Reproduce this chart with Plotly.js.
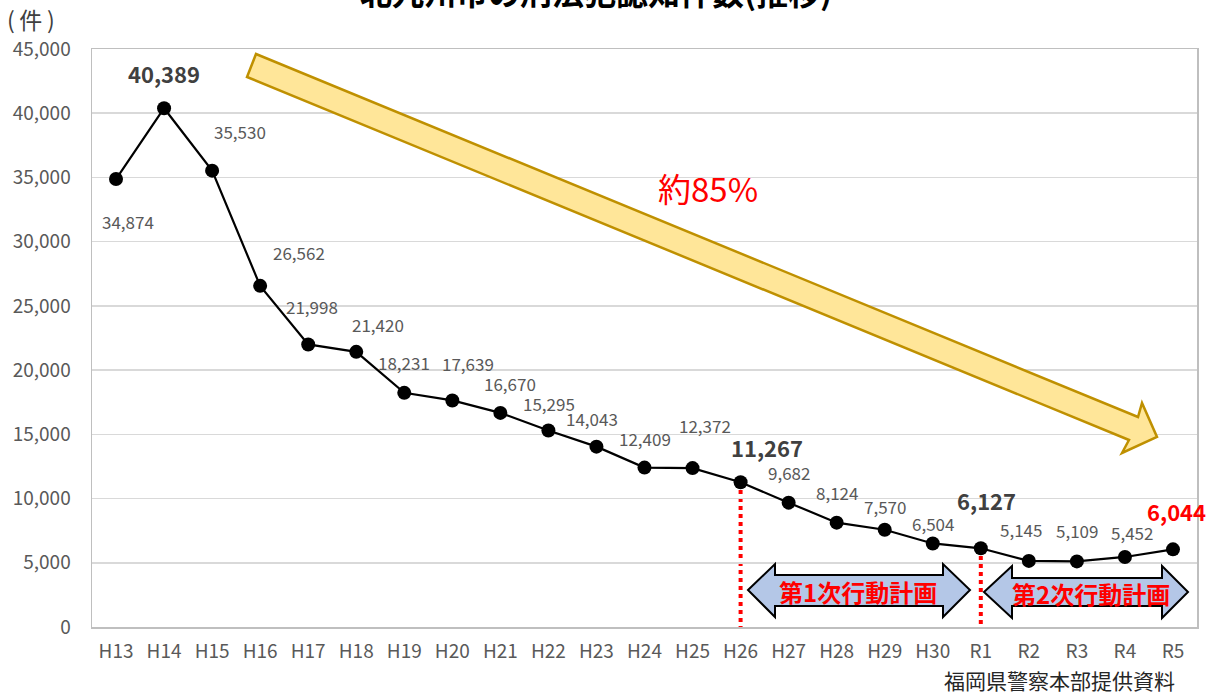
<!DOCTYPE html>
<html>
<head>
<meta charset="utf-8">
<script src="https://cdn.plot.ly/plotly-3.0.1.min.js"></script>
<style>html,body{margin:0;padding:0;background:#fff;}#chart{width:1219px;height:695px;}</style>
</head>
<body>
<div id="chart"></div>
<script>
// ---- data ----
var categories = ['H13','H14','H15','H16','H17','H18','H19','H20','H21','H22','H23','H24','H25','H26','H27','H28','H29','H30','R1','R2','R3','R4','R5'];
var counts = [34874,40389,35530,26562,21998,21420,18231,17639,16670,15295,14043,12409,12372,11267,9682,8124,7570,6504,6127,5145,5109,5452,6044];
var yTicks = [0,5000,10000,15000,20000,25000,30000,35000,40000,45000];
var titleText = '北九州市の刑法犯認知件数(推移)';
var unitText = '(\u2009件\u2009)';
var sourceText = '福岡県警察本部提供資料';
var reductionText = '約85%';
var plan1Text = '第1次行動計画';
var plan2Text = '第2次行動計画';
var plan1Start = 'H26', plan2Start = 'R1';

// label placement (style/position, not data)
var labelDx = [12,0,28,39,4,22,0,16,10,1,-4,0,12,26,0,0,0,0,6,-8,0,7,4];
var labelDy = [-42,35,39,33,38,27,30,37,29,27,28,29,43,35,30,30,23,20,48,31,31,24,38];
var bigIdx = [1,13,18];
var redIdx = [22];

var FONT = 'Noto Sans CJK JP, Noto Sans, sans-serif';
var L = 92, R = 22, T = 49, B = 68, W = 1219, H = 695;
var pw = W - L - R, ph = H - T - B;
function px(x){ return (x - L) / pw; }
function py(y){ return (T + ph - y) / ph; }
function path(pts){
  return 'M' + pts.map(function(p){ return px(p[0]).toFixed(5) + ',' + py(p[1]).toFixed(5); }).join('L') + 'Z';
}

var annotations = [];
counts.forEach(function(v, i){
  var big = bigIdx.indexOf(i) >= 0, red = redIdx.indexOf(i) >= 0;
  annotations.push({
    x: categories[i], y: v, xref: 'x', yref: 'y',
    text: v.toLocaleString('en-US'), showarrow: false,
    xshift: labelDx[i], yshift: labelDy[i],
    font: {family: FONT, size: (big || red) ? 22 : 17, color: red ? '#FF0000' : (big ? '#404040' : '#595959'), weight: (big||red) ? 'bold' : 'normal'}
  });
});
annotations.push({xref:'paper', yref:'paper', x: px(596), y: py(-9), text: '<b>' + titleText + '</b>', showarrow:false, font:{family:FONT, size:32, color:'#000'}, xanchor:'center', yanchor:'middle'});
annotations.push({xref:'paper', yref:'paper', x: px(31), y: py(19), text: unitText, showarrow:false, font:{family:FONT, size:23, color:'#404040'}, xanchor:'center', yanchor:'middle'});
annotations.push({xref:'paper', yref:'paper', x: px(1059), y: py(680), text: sourceText, showarrow:false, font:{family:FONT, size:21, color:'#262626'}, xanchor:'center', yanchor:'middle'});
annotations.push({xref:'paper', yref:'paper', x: px(708), y: py(188), text: reductionText, showarrow:false, font:{family:FONT, size:33, color:'#FF0000'}, xanchor:'center', yanchor:'middle'});
annotations.push({xref:'paper', yref:'paper', x: px(858), y: py(591), text: '<b>' + plan1Text + '</b>', showarrow:false, font:{family:FONT, size:24, color:'#FF0000'}, xanchor:'center', yanchor:'middle'});
annotations.push({xref:'paper', yref:'paper', x: px(1091), y: py(593), text: '<b>' + plan2Text + '</b>', showarrow:false, font:{family:FONT, size:24, color:'#FF0000'}, xanchor:'center', yanchor:'middle'});

function dblArrow(x0, x1, xh0, xh1, yc, yht, ybt, ybb, yhb){
  return path([[x0,yc],[xh0,yht],[xh0,ybt],[xh1,ybt],[xh1,yht],[x1,yc],[xh1,yhb],[xh1,ybb],[xh0,ybb],[xh0,yhb]]);
}

var shapes = [
  {type:'path', xref:'paper', yref:'paper', layer:'above',
   path: path([[256,54],[1138,417],[1142,403],[1157,437],[1122,453],[1129,440],[247,77]]),
   fillcolor:'#FFE699', line:{color:'#BF9000', width:2.5}},
  {type:'line', xref:'x', yref:'y', x0: plan1Start, x1: plan1Start, y0: counts[categories.indexOf(plan1Start)] - 600, y1: 0,
   line:{color:'#FF0000', width:4, dash:'4px,4px'}, layer:'below'},
  {type:'line', xref:'x', yref:'y', x0: plan2Start, x1: plan2Start, y0: counts[categories.indexOf(plan2Start)] - 600, y1: 0,
   line:{color:'#FF0000', width:4, dash:'4px,4px'}, layer:'below'},
  {type:'path', xref:'paper', yref:'paper', layer:'above',
   path: dblArrow(748, 970, 775, 943, 590, 564, 575, 606, 617),
   fillcolor:'#B4C7E7', line:{color:'#000000', width:2}},
  {type:'path', xref:'paper', yref:'paper', layer:'above',
   path: dblArrow(984, 1188, 1012, 1162, 592, 566, 578, 606, 618),
   fillcolor:'#B4C7E7', line:{color:'#000000', width:2}}
];

var trace = {
  x: categories, y: counts, type:'scatter', mode:'lines+markers',
  line:{color:'#000000', width:2.2},
  marker:{color:'#000000', size:14},
  hoverinfo:'x+y', cliponaxis:false
};

var layout = {
  width: W, height: H,
  margin:{l:L, r:R, t:T, b:B, pad:0},
  paper_bgcolor:'#ffffff', plot_bgcolor:'#ffffff',
  showlegend:false,
  font:{family:FONT, color:'#595959'},
  xaxis:{type:'category', range:[-0.5, categories.length - 0.5], showgrid:false, zeroline:false,
    showline:true, mirror:true, linecolor:'#BFBFBF', linewidth:1.5,
    ticks:'', tickfont:{family:FONT, size:19, color:'#595959'}, ticklabelstandoff:7, fixedrange:true},
  yaxis:{range:[0,45000], tickvals:yTicks, tickformat:',d', showgrid:true, gridcolor:'#D9D9D9', gridwidth:1.5,
    zeroline:false, showline:true, mirror:true, linecolor:'#BFBFBF', linewidth:1.5,
    ticks:'', tickfont:{family:FONT, size:19, color:'#595959'}, ticklabelstandoff:16, fixedrange:true},
  annotations: annotations,
  shapes: shapes
};

Plotly.newPlot('chart', [trace], layout, {displayModeBar:false, staticPlot:true});
</script>
</body>
</html>
